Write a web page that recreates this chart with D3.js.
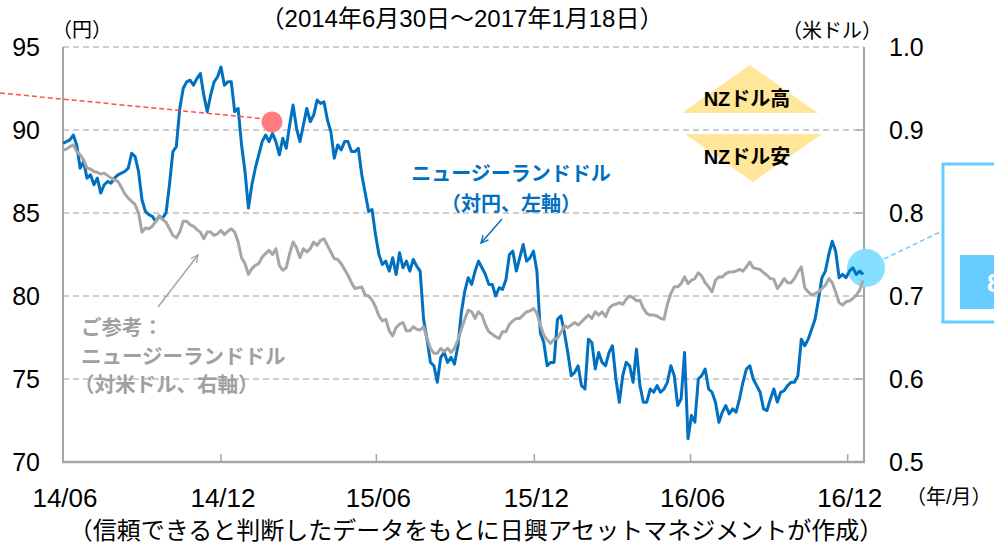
<!DOCTYPE html>
<meta charset="utf-8">
<style>
    body { margin: 0; background: #fff; }
    .grid line { stroke: #bfbfbf; stroke-width: 1.5px; stroke-dasharray: 6 4; }
    .num { font-family: "Liberation Sans", Arial, sans-serif; fill: #000; }
    .jp { font-family: "Liberation Sans", "Noto Sans CJK JP", sans-serif; }
</style>
<svg width="994" height="549"></svg>
<script src="https://cdn.jsdelivr.net/npm/d3@7"></script>
<script>
    // 期間: 2014/6/30 - 2017/1/18, 4日おきに読み取り
    var startDate = "2014-06-30",
        endDate = "2017-01-18",
        stepDays = 4;

    // NZドル/円 (左軸)
    var nzdJpy = [
        89.2, 89.3, 89.4, 89.7, 89.1, 87.7, 88.1, 87.1, 87.3, 86.7,
        87.1, 86.2, 86.7, 86.9, 86.8, 87.1, 87.3, 87.4, 87.5, 87.7,
        88.6, 88.4, 87.5, 85.8, 85.1, 84.9, 84.8, 84.5, 84.8, 84.7,
        85.0, 86.7, 88.7, 89.0, 91.3, 92.5, 92.9, 93.0, 92.7, 93.1,
        93.4, 92.1, 91.1, 92.1, 92.9, 93.2, 93.8, 92.7, 92.9, 92.9,
        91.1, 91.3, 89.1, 87.5, 85.3, 86.7, 87.7, 88.5, 89.3, 89.7, 89.3,
        89.8, 89.3, 88.5, 89.5, 88.9, 90.3, 91.5, 90.1, 89.3,
        90.3, 91.3, 90.5, 90.9, 91.8, 91.6, 91.7, 90.6, 89.9, 88.3,
        89.1, 88.8, 89.3, 89.3, 88.7, 88.7, 88.9, 87.3, 86.2, 85.1,
        85.2, 83.7, 82.5, 81.9, 82.1, 81.5, 82.3, 81.3, 82.6, 81.7,
        82.1, 81.5, 82.2, 81.8, 81.5, 78.6, 77.4, 76.0, 75.8, 74.8,
        76.3, 76.6, 76.0, 76.3, 75.9, 77.0, 79.0, 80.3, 81.1, 80.7,
        81.5, 82.1, 81.7, 81.3, 80.7, 80.7, 80.0, 80.5, 80.4, 81.0,
        82.5, 82.7, 81.5, 82.3, 83.1, 82.1, 82.3, 82.7, 81.5, 77.8,
        77.2, 75.8, 76.0, 76.0, 78.6, 78.8, 77.8, 76.6, 75.2, 75.4,
        75.8, 74.6, 74.4, 77.4, 77.2, 75.6, 76.6, 76.0, 75.8, 76.6,
        77.0, 75.0, 73.6, 75.2, 76.0, 75.8, 74.8, 76.8, 74.6, 73.6,
        73.6, 74.4, 74.2, 74.6, 74.2, 74.4, 74.8, 75.8, 75.2, 73.4,
        73.8, 76.6, 71.4, 72.8, 72.4, 75.0, 75.2, 75.6, 74.4, 74.2,
        73.6, 72.4, 73.0, 73.4, 72.9, 73.2, 73.0, 73.8, 74.8, 75.6,
        75.8, 75.0, 74.6, 74.2, 73.2, 73.1, 73.8, 74.4, 73.6, 74.2,
        74.3, 74.6, 74.8, 74.8, 75.2, 77.4, 77.0, 77.4, 78.0, 78.6,
        79.8, 81.1, 81.5, 82.5, 83.3, 82.7, 81.1, 81.3, 81.1, 81.5,
        81.7, 81.3, 81.5, 81.3
    ];

    // NZドル/米ドル (右軸)
    var nzdUsd = [
        0.876, 0.877, 0.880, 0.882, 0.874, 0.870, 0.864, 0.854, 0.853, 0.850,
        0.849, 0.847, 0.848, 0.845, 0.842, 0.840, 0.838, 0.831, 0.823, 0.818,
        0.814, 0.810, 0.800, 0.777, 0.782, 0.781, 0.784, 0.790, 0.797, 0.792,
        0.789, 0.781, 0.773, 0.770, 0.777, 0.790, 0.790, 0.786, 0.784, 0.780,
        0.777, 0.769, 0.777, 0.777, 0.773, 0.775, 0.779, 0.774, 0.778, 0.781,
        0.777, 0.765, 0.746, 0.739, 0.726, 0.733, 0.737, 0.739, 0.747, 0.751, 0.755,
        0.750, 0.757, 0.737, 0.731, 0.734, 0.751, 0.765, 0.758, 0.746,
        0.757, 0.753, 0.757, 0.765, 0.761, 0.767, 0.769, 0.761, 0.753, 0.745,
        0.744, 0.739, 0.732, 0.725, 0.716, 0.709, 0.710, 0.711, 0.701, 0.700,
        0.695, 0.687, 0.676, 0.670, 0.672, 0.658, 0.652, 0.662, 0.666, 0.668,
        0.658, 0.658, 0.663, 0.660, 0.659, 0.663, 0.649, 0.637, 0.631, 0.631,
        0.637, 0.633, 0.637, 0.632, 0.637, 0.647, 0.660, 0.672, 0.683, 0.681,
        0.673, 0.681, 0.677, 0.665, 0.657, 0.654, 0.651, 0.649, 0.657, 0.657,
        0.666, 0.670, 0.673, 0.673, 0.677, 0.681, 0.682, 0.685, 0.679, 0.665,
        0.653, 0.647, 0.643, 0.648, 0.649, 0.656, 0.664, 0.662, 0.665, 0.668,
        0.665, 0.669, 0.673, 0.677, 0.673, 0.681, 0.677, 0.681, 0.675, 0.685,
        0.689, 0.690, 0.692, 0.690, 0.696, 0.700, 0.698, 0.694, 0.695, 0.685,
        0.679, 0.677, 0.677, 0.676, 0.673, 0.672, 0.690, 0.703, 0.711, 0.711,
        0.715, 0.723, 0.715, 0.719, 0.721, 0.728, 0.724, 0.716, 0.711, 0.705,
        0.719, 0.723, 0.723, 0.727, 0.729, 0.729, 0.730, 0.732, 0.730, 0.735,
        0.741, 0.734, 0.733, 0.732, 0.728, 0.725, 0.721, 0.720, 0.709, 0.714,
        0.721, 0.716, 0.716, 0.721, 0.729, 0.735, 0.710, 0.705, 0.701, 0.703,
        0.705, 0.709, 0.713, 0.721, 0.716, 0.705, 0.692, 0.689, 0.693, 0.694,
        0.697, 0.701, 0.707, 0.719
    ];

    var xTickDates = ["2014-06-30", "2014-12-31", "2015-06-30", "2015-12-31", "2016-06-30", "2016-12-30"],
        xTickLabels = ["14/06", "14/12", "15/06", "15/12", "16/06", "16/12"],
        leftTicks = [70, 75, 80, 85, 90, 95],
        rightTicks = [0.5, 0.6, 0.7, 0.8, 0.9, 1.0];

    var parse = d3.timeParse("%Y-%m-%d");
    var dates = nzdJpy.map(function (d, i) { return d3.timeDay.offset(parse(startDate), i * stepDays); });

    var svg = d3.select("svg"),
        plotLeft = 63, plotRight = 864, plotTop = 47, plotBottom = 462;

    var x = d3.scaleTime().domain([parse(startDate), parse(endDate)]).range([plotLeft, plotRight]);
    var yL = d3.scaleLinear().domain([70, 95]).range([plotBottom, plotTop]);
    var yR = d3.scaleLinear().domain([0.5, 1.0]).range([plotBottom, plotTop]);

    svg.append("rect").attr("width", 994).attr("height", 549).attr("fill", "#fff");

    // 右側のはみ出した吹き出し
    svg.append("rect").attr("x", 943).attr("y", 164).attr("width", 70).attr("height", 158)
        .attr("fill", "#fff").attr("stroke", "#66ccff").attr("stroke-width", 3);
    svg.append("rect").attr("x", 960).attr("y", 255).attr("width", 40).attr("height", 54).attr("fill", "#66ccff");
    svg.append("text").attr("x", 987).attr("y", 292).attr("class", "num")
        .style("fill", "#fff").attr("font-size", 26).attr("font-weight", "bold").text("8");

    // グリッド
    svg.append("g").attr("class", "grid")
        .selectAll("line")
        .data(leftTicks.slice(1))
        .enter().append("line")
        .attr("x1", plotLeft).attr("x2", plotRight)
        .attr("y1", yL).attr("y2", yL);

    // 軸
    var axisColor = "#a6a6a6";
    svg.append("line").attr("x1", plotLeft).attr("x2", plotLeft).attr("y1", plotTop).attr("y2", plotBottom)
        .attr("stroke", axisColor).attr("stroke-width", 2);
    svg.append("line").attr("x1", plotRight).attr("x2", plotRight).attr("y1", plotTop).attr("y2", plotBottom)
        .attr("stroke", axisColor).attr("stroke-width", 2);
    svg.append("line").attr("x1", plotLeft - 1).attr("x2", plotRight + 1).attr("y1", plotBottom).attr("y2", plotBottom)
        .attr("stroke", axisColor).attr("stroke-width", 2.5);

    svg.append("g").selectAll("line")
        .data(rightTicks.slice(1, -1))
        .enter().append("line")
        .attr("x1", plotRight - 8).attr("x2", plotRight)
        .attr("y1", yR).attr("y2", yR)
        .attr("stroke", axisColor).attr("stroke-width", 1.5);

    svg.append("g").selectAll("line")
        .data(xTickDates.slice(1))
        .enter().append("line")
        .attr("x1", function (d) { return x(parse(d)); })
        .attr("x2", function (d) { return x(parse(d)); })
        .attr("y1", plotBottom - 8).attr("y2", plotBottom)
        .attr("stroke", axisColor).attr("stroke-width", 1.5);

    svg.append("g").selectAll("text")
        .data(leftTicks)
        .enter().append("text")
        .attr("class", "num")
        .attr("x", 40).attr("y", yL).attr("dy", "0.36em")
        .attr("text-anchor", "end").attr("font-size", 25)
        .text(function (d) { return d; });

    svg.append("g").selectAll("text")
        .data(rightTicks)
        .enter().append("text")
        .attr("class", "num")
        .attr("x", 889).attr("y", yR).attr("dy", "0.36em")
        .attr("font-size", 25)
        .text(d3.format(".1f"));

    svg.append("g").selectAll("text")
        .data(xTickDates)
        .enter().append("text")
        .attr("class", "num")
        .attr("x", function (d) { return x(parse(d)) + 2; }).attr("y", 507)
        .attr("text-anchor", "middle").attr("font-size", 26)
        .text(function (d, i) { return xTickLabels[i]; });

    // 最新値のマーカー
    svg.append("circle").attr("cx", 866).attr("cy", 268).attr("r", 19).attr("fill", "#85e0ff");
    svg.append("line").attr("x1", 884).attr("y1", 259).attr("x2", 942).attr("y2", 231)
        .attr("stroke", "#66ccff").attr("stroke-width", 1.5).attr("stroke-dasharray", "5 3");

    // 系列
    var lineJpy = d3.line()
        .x(function (d, i) { return x(dates[i]); })
        .y(function (d) { return yL(d); });
    var lineUsd = d3.line()
        .x(function (d, i) { return x(dates[i]); })
        .y(function (d) { return yR(d); });

    svg.append("path").attr("d", lineJpy(nzdJpy))
        .attr("fill", "none").attr("stroke", "#0070c0").attr("stroke-width", 3).attr("stroke-linejoin", "round");
    svg.append("path").attr("d", lineUsd(nzdUsd))
        .attr("fill", "none").attr("stroke", "#a6a6a6").attr("stroke-width", 3).attr("stroke-linejoin", "round");

    // 赤い点と引出線
    svg.append("line").attr("x1", 0).attr("y1", 93).attr("x2", 266).attr("y2", 119)
        .attr("stroke", "#ff5050").attr("stroke-width", 1.5).attr("stroke-dasharray", "5 3");
    svg.append("circle").attr("cx", 272).attr("cy", 122).attr("r", 10.5).attr("fill", "#ff7c80");

    // NZドル高 / 安
    svg.append("path").attr("d", "M682,113L750,65L818,113Z").attr("fill", "#ffe699");
    svg.append("path").attr("d", "M685,134L822,134L753,182Z").attr("fill", "#ffe699");
    svg.append("text").attr("class", "jp").attr("x", 747).attr("y", 106)
        .attr("text-anchor", "middle").attr("font-size", 20).attr("font-weight", "bold").text("NZドル高");
    svg.append("text").attr("class", "jp").attr("x", 747).attr("y", 164)
        .attr("text-anchor", "middle").attr("font-size", 20).attr("font-weight", "bold").text("NZドル安");

    // 注釈
    var defs = svg.append("defs");
    [["arrBlue", "#0070c0"], ["arrGray", "#a6a6a6"]].forEach(function (a) {
        defs.append("marker").attr("id", a[0]).attr("viewBox", "0 0 10 10")
            .attr("refX", 9).attr("refY", 5).attr("markerWidth", 9).attr("markerHeight", 9)
            .attr("orient", "auto").attr("markerUnits", "userSpaceOnUse")
            .append("path").attr("d", "M1,1L9,5L1,9").attr("fill", "none")
            .attr("stroke", a[1]).attr("stroke-width", 1.5);
    });

    svg.append("text").attr("class", "jp").attr("x", 511).attr("y", 181)
        .attr("text-anchor", "middle").attr("font-size", 20).attr("font-weight", "bold")
        .attr("fill", "#0070c0").text("ニュージーランドドル");
    svg.append("text").attr("class", "jp").attr("x", 511).attr("y", 211)
        .attr("text-anchor", "middle").attr("font-size", 20).attr("font-weight", "bold")
        .attr("fill", "#0070c0").text("（対円、左軸）");
    svg.append("line").attr("x1", 502).attr("y1", 219).attr("x2", 481).attr("y2", 243)
        .attr("stroke", "#0070c0").attr("stroke-width", 1.5).attr("marker-end", "url(#arrBlue)");

    var grayNote = ["ご参考：", "ニュージーランドドル", "（対米ドル、右軸）"];
    svg.append("g").selectAll("text")
        .data(grayNote)
        .enter().append("text")
        .attr("class", "jp")
        .attr("x", function (d, i) { return i === 2 ? 74 : 81; })
        .attr("y", function (d, i) { return 335 + i * 28.5; })
        .attr("font-size", 20.5).attr("font-weight", "bold").attr("fill", "#a0a0a0")
        .text(function (d) { return d; });
    svg.append("line").attr("x1", 158).attr("y1", 307).attr("x2", 198).attr("y2", 255)
        .attr("stroke", "#a6a6a6").attr("stroke-width", 1.5).attr("marker-end", "url(#arrGray)");

    // タイトル・単位
    svg.append("text").attr("class", "jp").attr("x", 462).attr("y", 27)
        .attr("text-anchor", "middle").attr("font-size", 24)
        .text("（2014年6月30日～2017年1月18日）");
    svg.append("text").attr("class", "jp").attr("x", 52).attr("y", 37)
        .attr("font-size", 20).text("（円）");
    svg.append("text").attr("class", "jp").attr("x", 782).attr("y", 38)
        .attr("font-size", 20).text("（米ドル）");
    svg.append("text").attr("class", "jp").attr("x", 906).attr("y", 504)
        .attr("font-size", 20).text("（年/月）");
    svg.append("text").attr("class", "jp").attr("x", 476).attr("y", 539)
        .attr("text-anchor", "middle").attr("font-size", 24)
        .text("（信頼できると判断したデータをもとに日興アセットマネジメントが作成）");
</script>
